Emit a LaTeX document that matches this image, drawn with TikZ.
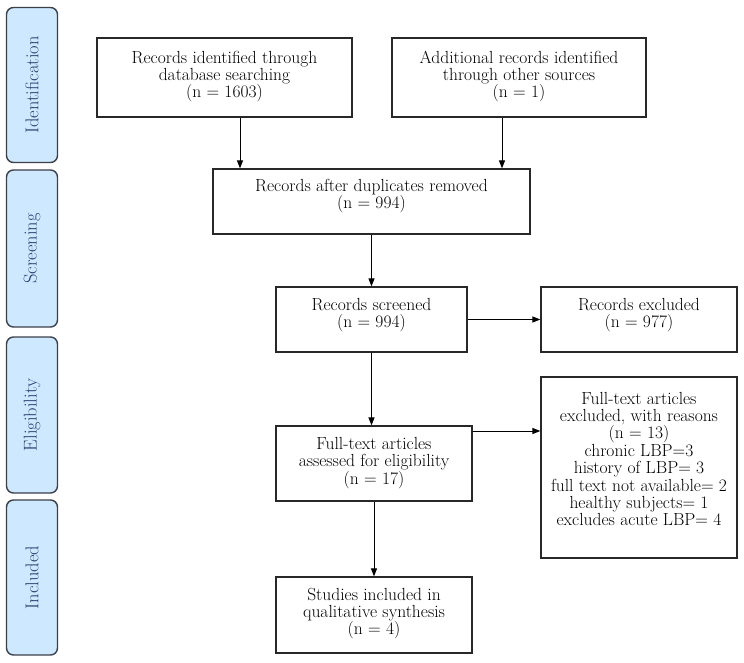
\documentclass[tikz,border=0pt]{standalone}
\usetikzlibrary{arrows.meta}
\definecolor{phasefill}{RGB}{206,233,255}
\definecolor{phasetext}{RGB}{38,64,112}
\definecolor{phaseline}{RGB}{60,64,72}
\definecolor{boxline}{RGB}{40,40,40}
\begin{document}
\begin{tikzpicture}[x=1pt,y=-1pt,
  phase/.style={draw=phaseline, line width=1.4pt, fill=phasefill, rounded corners=7pt,
    text=phasetext, font=\fontsize{18.5}{20}\selectfont, inner sep=0pt},
  box/.style={draw=boxline, line width=1.2pt, inner sep=0pt},
  txt/.style={align=center, font=\fontsize{17.5}{17.4}\selectfont, inner sep=0pt, text=black},
  arr/.style={line width=1pt, draw=black, -{Triangle[length=8pt,width=6pt]}}]
\useasboundingbox (0,0) rectangle (744,663);
% phases
\node[phase, rotate=90, minimum width=155pt, minimum height=51pt] (pid) at (32,85) {Identification};
\node[phase, rotate=90, minimum width=157pt, minimum height=51pt] (pscr) at (32,248.5) {Screening};
\node[phase, rotate=90, minimum width=156pt, minimum height=51pt] (peli) at (32,415) {Eligibility};
\node[phase, rotate=90, minimum width=155pt, minimum height=51pt] (pinc) at (32,577.5) {Included};
% boxes
\node[box, minimum width=255pt, minimum height=79pt] (b1) at (224.5,77.5) {};
\node[txt] (b1t) at (224.5,76.5) {Records identified through\\database searching\\(n = 1603)};
\node[box, minimum width=254pt, minimum height=79pt] (b2) at (519,77.5) {};
\node[txt] (b2t) at (519,76.5) {Additional records identified\\through other sources\\(n = 1)};
\node[box, minimum width=317pt, minimum height=65pt] (b3) at (371.5,201.5) {};
\node[txt] (b3t) at (371.5,196) {Records after duplicates removed\\(n = 994)};
\node[box, minimum width=191pt, minimum height=65pt] (b4) at (371.5,319.5) {};
\node[txt] (b4t) at (371.5,315) {Records screened\\(n = 994)};
\node[box, minimum width=196pt, minimum height=65pt] (b5) at (639,319.5) {};
\node[txt] (b5t) at (639,315) {Records excluded\\(n = 977)};
\node[box, minimum width=196pt, minimum height=75pt] (b6) at (374,463.5) {};
\node[txt] (b6t) at (374,463) {Full-text articles\\assessed for eligibility\\(n = 17)};
\node[box, minimum width=196pt, minimum height=181pt] (b7) at (639,467.5) {};
\node[txt] (b7t) at (639,459) {Full-text articles\\excluded, with reasons\\(n = 13)\\chronic LBP=3\\history of LBP= 3\\full text not available= 2\\healthy subjects= 1\\excludes acute LBP= 4};
\node[box, minimum width=196pt, minimum height=76pt] (b8) at (374,615) {};
\node[txt] (b8t) at (374,613.5) {Studies included in\\qualitative synthesis\\(n = 4)};
% arrows
\draw[arr] ([xshift=15.5pt]b1.south) coordinate (a1) -- (a1 |- b3.north);
\draw[arr] ([xshift=-17pt]b2.south) coordinate (a2) -- (a2 |- b3.north);
\draw[arr] (b3.south) -- (b4.north);
\draw[arr] (b4.east) -- (b5.west);
\draw[arr] (b4.south) -- (b4.south |- b6.north);
\draw[arr] ([yshift=32.5pt]b6.east) coordinate (a6) -- (a6 -| b7.west);
\draw[arr] (b6.south) -- (b8.north);
\end{tikzpicture}
\end{document}
